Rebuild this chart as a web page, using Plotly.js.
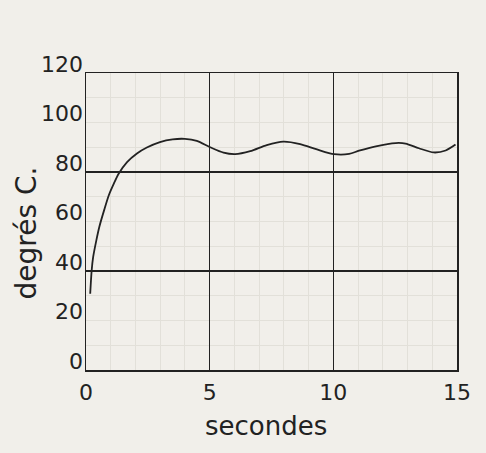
<!DOCTYPE html>
<html>
<head>
<meta charset="utf-8">
<script src="https://cdn.plot.ly/plotly-3.0.1.min.js"></script>
<style>
  html, body { margin: 0; padding: 0; background: #f1efea; }
  #chart { width: 486px; height: 453px; }
</style>
</head>
<body>
<div id="chart"></div>
<script>
// Time (seconds) and temperature (degrés C.)
const seconds = [0.17, 0.23, 0.29, 0.42, 0.54, 0.74, 0.93, 1.13, 1.32, 1.66, 2.06, 2.46, 2.99, 3.5, 4.0, 4.48, 5.02, 5.56, 6.03, 6.64, 7.31, 7.98, 8.66, 9.34, 10.03, 10.64, 11.04, 11.72, 12.52, 12.92, 13.46, 14.06, 14.54, 14.94];
const degres  = [30.8, 40.3, 45.7, 52.5, 57.9, 64.8, 70.8, 75.4, 79.3, 84.0, 87.5, 89.9, 92.1, 93.2, 93.4, 92.6, 90.0, 87.8, 87.2, 88.4, 90.9, 92.3, 91.3, 89.1, 87.2, 87.3, 88.6, 90.4, 91.7, 91.5, 89.6, 87.9, 88.7, 91.1];

const xTicks = [0, 5, 10, 15];
const yTicks = [0, 20, 40, 60, 80, 100, 120];
const yGrid  = [40, 80];
const xTitle = 'secondes';
const yTitle = 'degrés C.';

const ink = '#222222';
const font = 'DejaVu Sans, sans-serif';

const traces = [
  {
    x: seconds, y: degres,
    type: 'scatter', mode: 'lines',
    line: { color: ink, width: 1.8, shape: 'spline', smoothing: 0.8 },
    hoverinfo: 'skip', showlegend: false
  },
  {
    x: [null], y: [null], yaxis: 'y2',
    type: 'scatter', mode: 'lines', hoverinfo: 'skip', showlegend: false
  }
];

const layout = {
  width: 486, height: 453,
  margin: { l: 86, r: 29, t: 73, b: 83 },
  paper_bgcolor: '#f1efea',
  plot_bgcolor: '#f1efea',
  font: { family: font, color: ink },
  showlegend: false,
  xaxis: {
    range: [0, 15],
    tickvals: xTicks,
    ticktext: xTicks.map(String),
    ticks: '',
    ticklabelstandoff: 2,
    tickfont: { family: font, size: 22, color: ink },
    showgrid: true, gridcolor: ink, gridwidth: 1.5,
    zeroline: false,
    showline: true, mirror: true, linecolor: ink, linewidth: 1.5,
    minor: { dtick: 1, showgrid: true, gridcolor: '#e2e0d9', gridwidth: 1 }
  },
  yaxis: {
    range: [0, 120],
    tickvals: yGrid,
    showticklabels: false,
    ticks: '',
    showgrid: true, gridcolor: ink, gridwidth: 1.5,
    zeroline: false,
    showline: true, mirror: true, linecolor: ink, linewidth: 1.5,
    minor: { dtick: 10, showgrid: true, gridcolor: '#e2e0d9', gridwidth: 1 }
  },
  yaxis2: {
    overlaying: 'y', side: 'left', anchor: 'x',
    range: [0, 120],
    tickvals: yTicks,
    ticktext: yTicks.map(String),
    ticks: '',
    ticklabelshift: -9,
    ticklabelstandoff: 2,
    tickfont: { family: font, size: 22, color: ink },
    showgrid: false, zeroline: false, showline: false
  },
  annotations: [
    {
      text: xTitle, xref: 'paper', yref: 'paper',
      x: 0.5, y: 0, xshift: -6, yshift: -56,
      xanchor: 'center', yanchor: 'middle', showarrow: false,
      font: { family: font, size: 26, color: ink }
    },
    {
      text: yTitle, xref: 'paper', yref: 'paper', textangle: -90,
      x: 0, y: 0.5, xshift: -60, yshift: -12,
      xanchor: 'center', yanchor: 'middle', showarrow: false,
      font: { family: font, size: 28, color: ink }
    }
  ]
};

Plotly.newPlot('chart', traces, layout, { displayModeBar: false, staticPlot: true });
</script>
</body>
</html>
